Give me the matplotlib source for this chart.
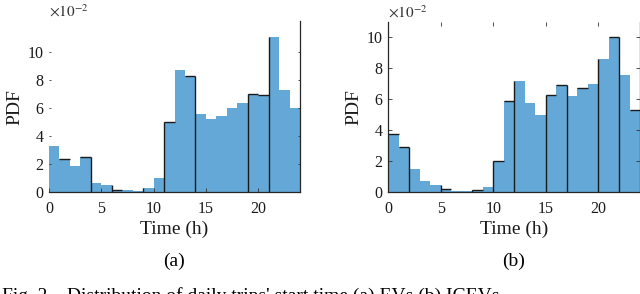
import numpy as np
import matplotlib
matplotlib.use("Agg")
import matplotlib.pyplot as plt

plt.rcParams['font.family'] = ['Liberation Serif', 'DejaVu Serif']
plt.rcParams['mathtext.fontset'] = 'stix'

# heures de depart (bins de 1 h)
heures = np.arange(24)

# PDF en unites de 1e-2
pdf_ev = [3.29, 2.35, 1.87, 2.49, 0.69, 0.50, 0.14, 0.17, 0.07, 0.28, 1.04, 4.98,
          8.70, 8.27, 5.57, 5.21, 5.45, 5.97, 6.35, 7.01, 6.92, 11.07, 7.27, 6.00]
pdf_icev = [3.74, 2.92, 1.51, 0.71, 0.45, 0.19, 0.09, 0.09, 0.15, 0.37, 2.02, 5.87,
            7.18, 5.76, 4.99, 6.26, 6.95, 6.24, 6.71, 7.01, 8.58, 10.02, 7.55, 5.29]

# bords noirs visibles (rendu matlab)
bords_ev = [4, 6, 9, 11, 14, 19, 21]
hauts_ev = [1, 3, 6, 11, 13, 19, 20]
bords_icev = [2, 5, 8, 10, 12, 15, 17, 20, 22]
hauts_icev = [0, 1, 5, 8, 10, 11, 15, 16, 18, 21, 23]

xticks = [0, 5, 10, 15, 20]
yticks = [0, 2, 4, 6, 8, 10]

couleur = '#64a8d8'
noir = '#1a1a1a'


def histo(ax, pdf, bords, hauts, ymax):
    ax.bar(heures, pdf, width=1.0, align='edge', color=couleur, edgecolor='none')
    for b in bords:
        h = max(pdf[b - 1], pdf[b] if b < len(pdf) else 0)
        ax.vlines(b, 0, h, color=noir, lw=1.0)
    for i in hauts:
        ax.hlines(pdf[i], heures[i], heures[i] + 1, color=noir, lw=1.0)
    ax.set_xlim(0, 24)
    ax.set_ylim(0, ymax)
    ax.set_xticks(xticks)
    ax.set_yticks(yticks)
    ax.tick_params(direction='in', length=3, width=0.6, labelsize=11.5,
                   colors='#333333', labelcolor='#1a1a1a')
    ax.tick_params(axis='x', pad=6)
    ax.tick_params(axis='y', pad=4)
    ax.set_xlabel('Time (h)', fontsize=14, labelpad=3, color='#1a1a1a')
    ax.set_ylabel('PDF', fontsize=14, labelpad=3, color='#1a1a1a')
    ax.text(0.0, 1.008, r'$\times 10^{-2}$', transform=ax.transAxes, fontsize=11,
            ha='left', va='bottom', color='#333333')
    ax.spines['top'].set_visible(False)
    for s in ['bottom', 'left', 'right']:
        ax.spines[s].set_color('#262626')
        ax.spines[s].set_linewidth(0.9)


fig = plt.figure(figsize=(6.4, 2.94), dpi=100)

ax1 = fig.add_axes([49 / 640, 1 - 192.3 / 294, 251 / 640, 171 / 294])
histo(ax1, pdf_ev, bords_ev, hauts_ev, 12.15)
ax1.spines['left'].set_visible(False)
ax1.tick_params(axis='y', which='major', length=1.5, right=True)
ax1.tick_params(top=False)

ax2 = fig.add_axes([388.3 / 640, 1 - 192.3 / 294, 252 / 640, 170.3 / 294])
histo(ax2, pdf_icev, bords_icev, hauts_icev, 11)
ax2.tick_params(right=True, top=True)

fig.text(174 / 640, 1 - 261 / 294, '(a)', ha='center', va='center', fontsize=14)
fig.text(514 / 640, 1 - 261 / 294, '(b)', ha='center', va='center', fontsize=14)
# legende coupee en bas comme sur l'image d'origine
fig.text(2 / 640, 1 - 287 / 294, "Fig. 2.   Distribution of daily trips' start time (a) EVs (b) ICEVs.",
         ha='left', va='top', fontsize=14)

fig.savefig('out.png', dpi=100)
